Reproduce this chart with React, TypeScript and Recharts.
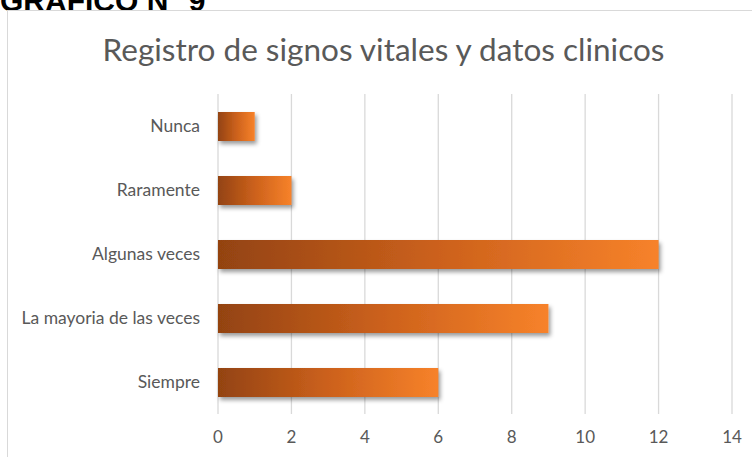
import React from "react";
import { BarChart, Bar, XAxis, YAxis, CartesianGrid } from "recharts";

const categories = ["Nunca", "Raramente", "Algunas veces", "La mayoria de las veces", "Siempre"];
const values = [1, 2, 12, 9, 6];
const xTicks = [0, 2, 4, 6, 8, 10, 12, 14];
const chartTitle = "Registro de signos vitales y datos clinicos";
const headerText = "GRÁFICO N° 9";

const data = categories.map((c, i) => ({ name: c, value: values[i] }));

const FONT = "Lato, 'Open Sans', sans-serif";
const TEXT = "#595959";

export default function App() {
  return (
    <div
      style={{
        position: "fixed",
        left: 0,
        top: 0,
        width: 752,
        height: 457,
        overflow: "hidden",
        background: "#fff",
      }}
    >
      <div
        style={{
          position: "absolute",
          left: 0,
          top: -16,
          fontFamily: "'Liberation Sans', Arial, sans-serif",
          fontWeight: 700,
          fontSize: 30,
          color: "#000",
          lineHeight: "34px",
          whiteSpace: "nowrap",
        }}
      >
        {headerText}
      </div>
      <div
        style={{
          position: "absolute",
          left: 7,
          top: 10,
          width: 800,
          height: 500,
          border: "1px solid #d9d9d9",
          background: "#fff",
        }}
      />
      <div
        style={{
          position: "absolute",
          left: 0,
          width: 767,
          top: 30,
          textAlign: "center",
          fontFamily: FONT,
          fontSize: 31.5,
          color: TEXT,
          lineHeight: "38px",
          whiteSpace: "nowrap",
        }}
      >
        {chartTitle}
      </div>
      <div style={{ position: "absolute", left: 0, top: 0 }}>
        <BarChart
          width={752}
          height={457}
          data={data}
          layout="vertical"
          margin={{ top: 94, right: 20, bottom: 0, left: 0 }}
          barSize={29}
        >
          <defs>
            <linearGradient id="barGrad" x1="0" y1="0" x2="1" y2="0">
              <stop offset="0%" stopColor="#934311" />
              <stop offset="50%" stopColor="#cc611c" />
              <stop offset="100%" stopColor="#f7822a" />
            </linearGradient>
            <filter id="barShadow" x="-10%" y="-30%" width="130%" height="180%">
              <feDropShadow dx="2" dy="3" stdDeviation="2" floodColor="#000" floodOpacity="0.4" />
            </filter>
          </defs>
          <CartesianGrid horizontal={false} stroke="#d9d9d9" strokeWidth={1.3} />
          <XAxis
            type="number"
            domain={[0, 14]}
            ticks={xTicks}
            axisLine={false}
            tickLine={false}
            height={43}
            tickMargin={11}
            tick={{ fill: TEXT, fontSize: 17, fontFamily: FONT }}
            interval={0}
          />
          <YAxis
            type="category"
            dataKey="name"
            width={218}
            axisLine={false}
            tickLine={false}
            tickMargin={12}
            tick={{ fill: TEXT, fontSize: 17.5, fontFamily: FONT }}
            interval={0}
          />
          <Bar
            dataKey="value"
            fill="url(#barGrad)"
            filter="url(#barShadow)"
            isAnimationActive={false}
          />
        </BarChart>
      </div>
    </div>
  );
}
